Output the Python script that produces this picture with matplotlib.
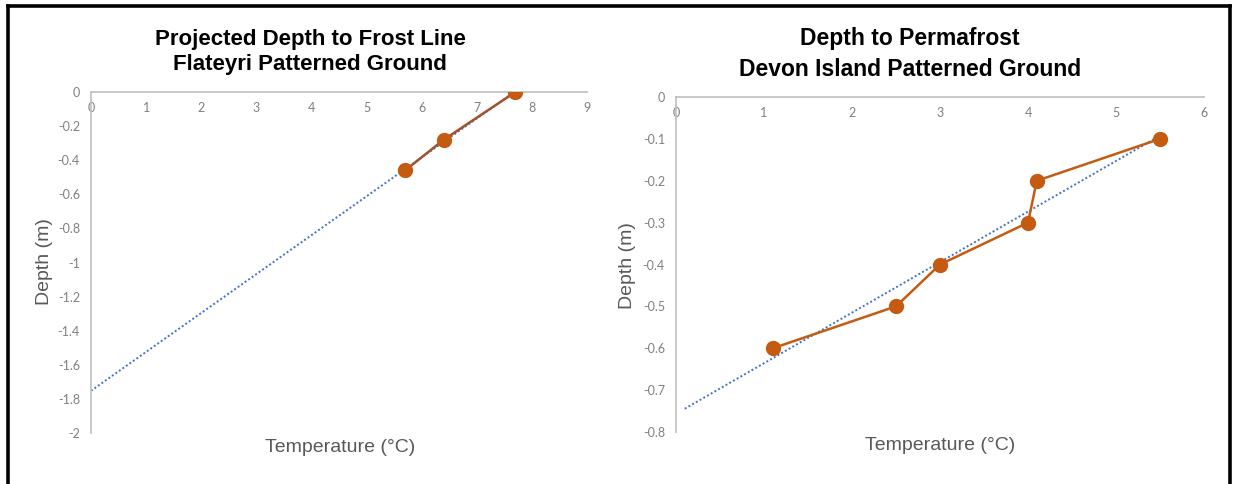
import matplotlib
matplotlib.use("Agg")
import matplotlib.pyplot as plt
from matplotlib.lines import Line2D
import numpy as np

# Flateyri patterned ground
flat_temp = [7.7, 6.4, 5.7]
flat_depth = [0.0, -0.28, -0.46]
flat_yticks = [0, -0.2, -0.4, -0.6, -0.8, -1, -1.2, -1.4, -1.6, -1.8, -2]
flat_xticks = [0, 1, 2, 3, 4, 5, 6, 7, 8, 9]

# Devon Island patterned ground
devon_temp = [5.5, 4.1, 4.0, 3.0, 2.5, 1.1]
devon_depth = [-0.1, -0.2, -0.3, -0.4, -0.5, -0.6]
devon_yticks = [0, -0.1, -0.2, -0.3, -0.4, -0.5, -0.6, -0.7, -0.8]
devon_xticks = [0, 1, 2, 3, 4, 5, 6]

MARKER = "#C55A11"
TREND = "#4472C4"
AXIS_GREY = "#BFBFBF"
TICK_GREY = "#808080"
LABEL_GREY = "#595959"

W, H = 1233, 484

plt.rcParams["font.family"] = ["Liberation Sans", "DejaVu Sans"]


def draw_panel(ax, temp, depth, xticks, yticks, line_color, back):
    # linear trendline, extended backwards like the Excel forecast
    slope, icpt = np.polyfit(temp, depth, 1)
    xs = np.array([min(temp) - back, max(temp)])
    ax.plot(xs, slope * xs + icpt, linestyle=(0, (1, 1.2)), color=TREND,
            linewidth=1.4, zorder=2)
    ax.plot(temp, depth, color=line_color, linewidth=1.8, marker="o",
            markersize=10, markerfacecolor=MARKER, markeredgecolor=MARKER,
            zorder=3)

    ax.set_xlim(xticks[0], xticks[-1])
    ax.set_ylim(yticks[-1], yticks[0])
    ax.set_xticks(xticks)
    ax.set_yticks(yticks)
    ax.set_xticklabels([f"{v:g}" for v in xticks])
    ax.set_yticklabels([f"{v:g}" for v in yticks])
    ax.tick_params(length=0, colors=TICK_GREY, labelsize=9)
    ax.tick_params(axis="y", pad=8)
    ax.tick_params(axis="x", pad=7)

    ax.spines["bottom"].set_position(("data", 0))
    ax.spines["top"].set_visible(False)
    ax.spines["right"].set_visible(False)
    for side in ("bottom", "left"):
        ax.spines[side].set_color(AXIS_GREY)
        ax.spines[side].set_linewidth(1.2)
    for lab in ax.get_xticklabels() + ax.get_yticklabels():
        lab.set_fontfamily("Lato")


fig = plt.figure(figsize=(W / 100, H / 100), dpi=100)

ax1 = fig.add_axes([91 / W, 1 - 433 / H, 496 / W, 341 / H])
draw_panel(ax1, flat_temp, flat_depth, flat_xticks, flat_yticks, "#A0522D",
           min(flat_temp))

ax2 = fig.add_axes([676 / W, 1 - 432 / H, 528 / W, 335 / H])
draw_panel(ax2, devon_temp, devon_depth, devon_xticks, devon_yticks, MARKER, 1.0)

# chart titles
fig.text(310 / W, 1 - 52 / H,
         "Projected Depth to Frost Line\nFlateyri Patterned Ground",
         ha="center", va="center", fontsize=16, fontweight="bold",
         linespacing=1.3, color="black")
fig.text(910 / W, 1 - 54 / H,
         "Depth to Permafrost\nDevon Island Patterned Ground",
         ha="center", va="center", fontsize=16.5, fontweight="bold",
         linespacing=1.4, color="black")

# axis titles
fig.text(340 / W, 1 - 447 / H, "Temperature (\u00b0C)", ha="center",
         va="center", fontsize=14, color=LABEL_GREY)
fig.text(940 / W, 1 - 445 / H, "Temperature (\u00b0C)", ha="center",
         va="center", fontsize=14, color=LABEL_GREY)
fig.text(45 / W, 1 - 262 / H, "Depth (m)", ha="center", va="center",
         rotation=90, fontsize=14, color=LABEL_GREY)
fig.text(627 / W, 1 - 266 / H, "Depth (m)", ha="center", va="center",
         rotation=90, fontsize=14, color=LABEL_GREY)

# black frame (open at the bottom)
bx0, bx1, by = 7.5 / W, 1229.5 / W, 1 - 5.5 / H
for xs, ys in [([bx0, bx0], [0, by]), ([bx0, bx1], [by, by]), ([bx1, bx1], [by, 0])]:
    fig.add_artist(Line2D(xs, ys, color="black", linewidth=2.6,
                          transform=fig.transFigure, solid_capstyle="projecting"))

fig.savefig("out.png", dpi=100, facecolor="white")
